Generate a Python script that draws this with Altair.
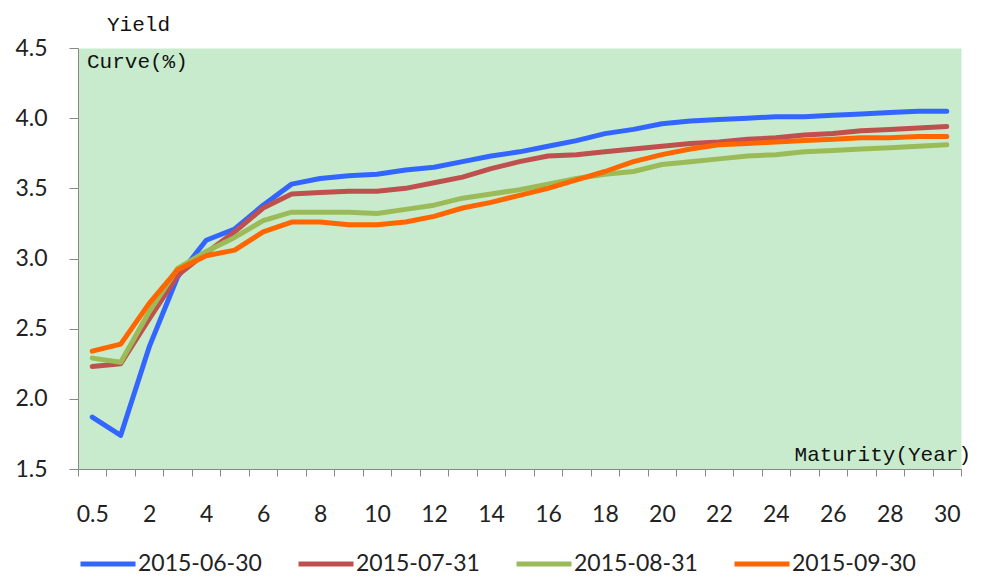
import altair as alt
import pandas as pd

maturities = ["0.5", "1", "2", "3", "4", "5", "6", "7", "8", "9", "10", "11", "12", "13", "14", "15",
              "16", "17", "18", "19", "20", "21", "22", "23", "24", "25", "26", "27", "28", "29", "30"]
shown_labels = ["0.5", "2", "4", "6", "8", "10", "12", "14", "16", "18", "20", "22", "24", "26", "28", "30"]

series_names = ["2015-06-30", "2015-07-31", "2015-08-31", "2015-09-30"]
series_colors = ["#3366FF", "#C0504D", "#9BBB59", "#FF6600"]

y_jun = [1.87, 1.74, 2.37, 2.87, 3.13, 3.21, 3.38, 3.53, 3.57, 3.59, 3.60, 3.63, 3.65, 3.69, 3.73, 3.76,
         3.80, 3.84, 3.89, 3.92, 3.96, 3.98, 3.99, 4.00, 4.01, 4.01, 4.02, 4.03, 4.04, 4.05, 4.05]
y_jul = [2.23, 2.25, 2.57, 2.88, 3.04, 3.19, 3.36, 3.46, 3.47, 3.48, 3.48, 3.50, 3.54, 3.58, 3.64, 3.69,
         3.73, 3.74, 3.76, 3.78, 3.80, 3.82, 3.83, 3.85, 3.86, 3.88, 3.89, 3.91, 3.92, 3.93, 3.94]
y_aug = [2.29, 2.26, 2.62, 2.93, 3.05, 3.15, 3.27, 3.33, 3.33, 3.33, 3.32, 3.35, 3.38, 3.43, 3.46, 3.49,
         3.53, 3.57, 3.60, 3.62, 3.67, 3.69, 3.71, 3.73, 3.74, 3.76, 3.77, 3.78, 3.79, 3.80, 3.81]
y_sep = [2.34, 2.39, 2.68, 2.92, 3.02, 3.06, 3.19, 3.26, 3.26, 3.24, 3.24, 3.26, 3.30, 3.36, 3.40, 3.45,
         3.50, 3.56, 3.62, 3.69, 3.74, 3.78, 3.81, 3.82, 3.83, 3.84, 3.85, 3.86, 3.86, 3.87, 3.87]

y_ticks = [1.5, 2.0, 2.5, 3.0, 3.5, 4.0, 4.5]

title_top = "Yield"
title_inner = "Curve(%)"
x_title = "Maturity(Year)"

rows = []
for name, vals in zip(series_names, [y_jun, y_jul, y_aug, y_sep]):
    for m, v in zip(maturities, vals):
        rows.append({"maturity": m, "yield": v, "series": name})
df = pd.DataFrame(rows)

W, H = 883, 421
label_font = "Lato"
mono_font = "Liberation Mono"

lines = alt.Chart(df).mark_line(strokeWidth=5, strokeJoin="round", strokeCap="round").encode(
    x=alt.X("maturity:N", sort=maturities, bandPosition=0.5,
            scale=alt.Scale(type="band", domain=maturities, paddingInner=0, paddingOuter=0),
            axis=alt.Axis(title=None, tickBand="extent", tickSize=7, labelPadding=27, labelAngle=0,
                          labelFontSize=23, labelFont=label_font, labelColor="#222222",
                          domainColor="#888888", tickColor="#888888", grid=False,
                          labelExpr="indexof(" + str(shown_labels) + ", datum.label) >= 0 ? datum.label : ''")),
    y=alt.Y("yield:Q", scale=alt.Scale(domain=[1.5, 4.5], nice=False, zero=False),
            axis=alt.Axis(title=None, values=y_ticks, format=".1f", tickSize=9, labelPadding=22,
                          labelFontSize=23, labelFont=label_font, labelColor="#222222",
                          domainColor="#888888", tickColor="#888888", grid=False)),
    color=alt.Color("series:N", sort=series_names,
                    scale=alt.Scale(domain=series_names, range=series_colors),
                    legend=alt.Legend(title=None, orient="none", direction="horizontal",
                                      legendX=0, legendY=486, symbolType="stroke",
                                      symbolSize=3025, symbolStrokeWidth=5, labelOffset=0,
                                      columnPadding=26, labelFontSize=23, labelFont=label_font,
                                      labelColor="#222222", labelLimit=300)),
    detail="series:N",
)

texts = [
    (title_top, 29, -23, "left"),
    (title_inner, 9, 14, "left"),
    (x_title, W + 10, 407, "right"),
]
text_layers = [
    alt.Chart(pd.DataFrame({"t": [t]})).mark_text(
        align=al, baseline="middle", font=mono_font, fontSize=21, color="#111111"
    ).encode(text="t:N", x=alt.value(px), y=alt.value(py))
    for t, px, py, al in texts
]

chart = alt.layer(lines, *text_layers).properties(
    width=W, height=H,
    autosize=alt.AutoSizeParams(type="none"),
    padding={"left": 70, "top": 40, "right": 12, "bottom": 108},
    background="white",
).configure_view(fill="#C8EBCD", stroke="transparent")

chart.save("out.html", embed_options={"renderer": "svg", "actions": False})
